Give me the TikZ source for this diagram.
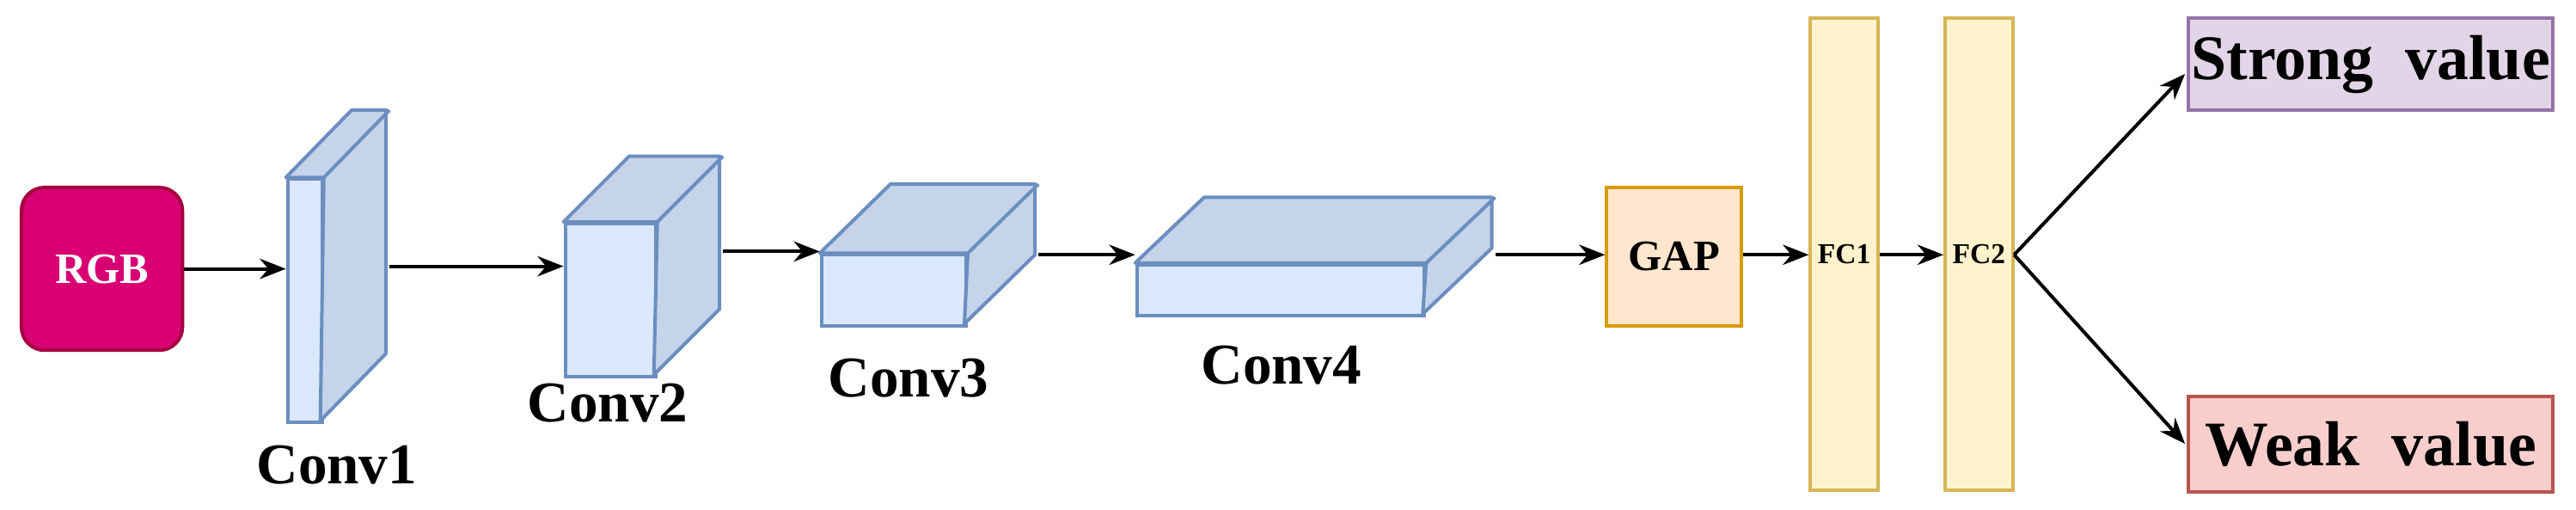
\documentclass[tikz,border=0pt]{standalone}
\usepackage{fontspec}
\setmainfont{Liberation Serif}
\usetikzlibrary{arrows.meta}

\definecolor{rgbfill}{HTML}{D80073}
\definecolor{rgbline}{HTML}{A50040}
\definecolor{convfront}{HTML}{DAE8FC}
\definecolor{convside}{HTML}{C4D4EA}
\definecolor{convline}{HTML}{6C8EBF}
\definecolor{gapfill}{HTML}{FFE6CC}
\definecolor{gapline}{HTML}{D79B00}
\definecolor{fcfill}{HTML}{FFF2CC}
\definecolor{fcline}{HTML}{D6B656}
\definecolor{strongfill}{HTML}{E1D5E7}
\definecolor{strongline}{HTML}{9673A6}
\definecolor{weakfill}{HTML}{F8CECC}
\definecolor{weakline}{HTML}{B85450}

\tikzset{
  box/.style={draw, line width=1.2pt, inner sep=0pt, anchor=north west, font=\bfseries},
  front/.style={box, fill=convfront, draw=convline},
  lbl/.style={font=\bfseries\fontsize{20}{22}\selectfont},
  arr/.style={-{Stealth[length=9pt,width=7pt]}, line width=1.2pt}
}

% front face, then top and side of a block
\newcommand{\block}[7]{%
  \node[front, minimum width=#3*0.02cm, minimum height=#4*0.02cm] (#7) at (#1,#2) {};
  \draw[line width=1.2pt, draw=convline, fill=convside, line join=round]
    (#7.north west) -- ++(#5,#6) -- ++(#3,0) -- ++(0,#4) -- ++(-#5,-#6)
    -- (#7.north east) -- cycle;
  \draw[line width=1.2pt, draw=convline] (#7.north east) -- ++(#5,#6);
}

\begin{document}
\begin{tikzpicture}[x=0.02cm, y=-0.02cm]
  \useasboundingbox (0,0) rectangle (1568,310);

  % input
  \node[box, fill=rgbfill, draw=rgbline, rounded corners=8pt, text=white,
        minimum width=98*0.02cm, minimum height=99*0.02cm,
        font=\bfseries\fontsize{15}{17}\selectfont] (rgb) at (12,113) {RGB};

  % conv blocks
  \block{174}{108}{21}{148}{40}{-41}{conv1}
  \block{343}{135}{55}{93}{40}{-40}{conv2}
  \block{499}{154}{88}{43}{43}{-42}{conv3}
  \block{691}{160}{175}{31}{42}{-40}{conv4}

  \node[lbl] (l1) at (205,283) {Conv1};
  \node[lbl] (l2) at (370,245) {Conv2};
  \node[lbl] (l3) at (553,230) {Conv3};
  \node[lbl] (l4) at (780,222) {Conv4};

  % head
  \node[box, fill=gapfill, draw=gapline, minimum width=82*0.02cm, minimum height=84*0.02cm,
        font=\bfseries\fontsize{15}{17}\selectfont] (gap) at (977,113) {GAP};
  \node[box, fill=fcfill, draw=fcline, minimum width=41*0.02cm, minimum height=287*0.02cm,
        font=\bfseries\fontsize{10}{12}\selectfont] (fc1) at (1101,10) {FC1};
  \node[box, fill=fcfill, draw=fcline, minimum width=41*0.02cm, minimum height=287*0.02cm,
        font=\bfseries\fontsize{10}{12}\selectfont] (fc2) at (1183,10) {FC2};
  \node[box, fill=strongfill, draw=strongline, minimum width=222*0.02cm, minimum height=56*0.02cm,
        font=\bfseries\fontsize{22}{24}\selectfont] (strong) at (1331,10) {Strong~ value};
  \node[box, fill=weakfill, draw=weakline, minimum width=222*0.02cm, minimum height=58*0.02cm,
        font=\bfseries\fontsize{22}{24}\selectfont] (weak) at (1331,240) {Weak~ value};

  % connectors
  \draw[arr] (rgb.east) -- (conv1.west |- rgb.east);
  \draw[arr] (conv1.east |- 0,162) ++(40,0) -- (conv2.west |- 0,162);
  \draw[arr] (conv2.east |- 0,153) ++(40,0) -- (conv3.west |- 0,153);
  \draw[arr] (conv3.east |- 0,155) ++(43,0) -- (conv4.west |- 0,155);
  \draw[arr] (conv4.east |- 0,155) ++(42,0) -- (gap.west |- 0,155);
  \draw[arr] (gap.east |- 0,155) -- (fc1.west |- 0,155);
  \draw[arr] (fc1.east |- 0,155) -- (fc2.west |- 0,155);
  \coordinate (split) at (1226,155);
  \draw[arr] (split) -- (1330,45);
  \draw[arr] (split) -- (1330,270);
\end{tikzpicture}
\end{document}
